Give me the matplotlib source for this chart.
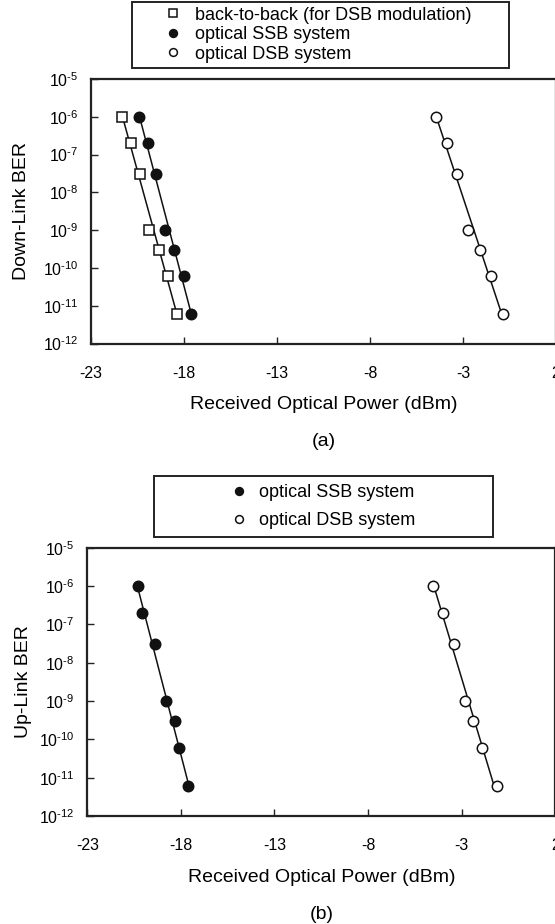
import numpy as np
import matplotlib
matplotlib.use("Agg")
import matplotlib.pyplot as plt
from matplotlib.ticker import FixedLocator, FixedFormatter

plt.rcParams['font.family'] = ['Liberation Sans', 'DejaVu Sans']
plt.rcParams['mathtext.fontset'] = 'custom'
plt.rcParams['mathtext.rm'] = 'Liberation Sans'
plt.rcParams['mathtext.it'] = 'Liberation Sans:italic'
plt.rcParams['mathtext.default'] = 'regular'

# ---- data ----
ber = [1e-6, 2e-7, 3e-8, 1e-9, 3e-10, 6e-11, 6e-12]

down_b2b = [-21.35, -20.85, -20.35, -19.86, -19.34, -18.84, -18.36]
down_ssb = [-20.43, -19.93, -19.52, -19.02, -18.52, -18.01, -17.60]
down_dsb = [-4.47, -3.88, -3.30, -2.71, -2.10, -1.47, -0.86]

up_ssb = [-20.31, -20.09, -19.40, -18.81, -18.32, -18.12, -17.62]
up_dsb = [-4.52, -4.01, -3.40, -2.82, -2.41, -1.90, -1.13]

xticks = [-23, -18, -13, -8, -3, 2]
xticklabels = ['-23', '-18', '-13', '-8', '-3', '2']
yexp = [-5, -6, -7, -8, -9, -10, -11, -12]

lab_b2b = 'back-to-back (for DSB modulation)'
lab_ssb = 'optical SSB system'
lab_dsb = 'optical DSB system'

W, H = 555, 924
fig = plt.figure(figsize=(W / 100, H / 100), dpi=100)


def fpos(l, r, t, b):
    return [l / W, 1 - b / H, (r - l) / W, (b - t) / H]


def fit_line(ax, xs):
    ly = np.log10(ber)
    p = np.polyfit(ly, xs, 1)
    yy = np.linspace(ly.min() - 0.08, ly.max(), 50)
    ax.plot(np.polyval(p, yy), 10 ** yy, color='#111111', lw=1.1, zorder=2)


def style(ax, ylabel, tag, ylab_x, tag_y):
    ax.set_yscale('log')
    ax.set_xlim(-23, 2)
    ax.set_ylim(1e-12, 1e-5)
    ax.xaxis.set_major_locator(FixedLocator(xticks))
    ax.xaxis.set_major_formatter(FixedFormatter(xticklabels))
    ax.yaxis.set_major_locator(FixedLocator([10.0 ** e for e in yexp]))
    ax.yaxis.set_major_formatter(
        FixedFormatter(['$10^{\\text{-%d}}$' % (-e) for e in yexp]))
    ax.yaxis.set_minor_locator(FixedLocator([]))
    ax.tick_params(axis='both', direction='in', length=5, width=1.0,
                   top=False, right=False, color='#222222')
    ax.tick_params(axis='x', pad=16, labelsize=11.5)
    ax.tick_params(axis='y', pad=9, labelsize=11.5)
    for s in ax.spines.values():
        s.set_linewidth(1.6)
        s.set_color('#222222')
    ax.set_xlabel('Received Optical Power (dBm)', fontsize=14, labelpad=11)
    ax.set_ylabel(ylabel, fontsize=14)
    ax.yaxis.set_label_coords(ylab_x, 0.5)
    ax.text(0.5, tag_y, tag, transform=ax.transAxes, ha='center', va='center',
            fontsize=14)


mk = dict(linestyle='none', markersize=7.5, markeredgewidth=1.1,
          markeredgecolor='#111111', zorder=3)

# ---- panel (a) ----
ax1 = fig.add_axes(fpos(91, 556, 79, 343.5))
h1, = ax1.plot(down_b2b, ber, marker='s', markerfacecolor='white', label=lab_b2b, **mk)
h2, = ax1.plot(down_ssb, ber, marker='o', markerfacecolor='#111111', label=lab_ssb, **mk)
h3, = ax1.plot(down_dsb, ber, marker='o', markerfacecolor='white', label=lab_dsb, **mk)
for xs in (down_b2b, down_ssb, down_dsb):
    fit_line(ax1, xs)
style(ax1, 'Down-Link BER', '(a)', (30 - 91) / 465, -0.371)

leg1 = fig.legend(handles=[h1, h2, h3], loc='upper left',
                  bbox_to_anchor=(132 / W, 1 - 1.5 / H, 377 / W, 0.0),
                  mode='expand', fontsize=13, frameon=True, fancybox=False,
                  edgecolor='#222222', framealpha=1, numpoints=1,
                  markerscale=0.75, handlelength=3.94, handletextpad=-0.75,
                  borderpad=0.29, labelspacing=0.14, borderaxespad=0)
leg1.get_frame().set_linewidth(1.4)

# ---- panel (b) ----
ax2 = fig.add_axes(fpos(87.3, 555.3, 547.7, 816))
g1, = ax2.plot(up_ssb, ber, marker='o', markerfacecolor='#111111', label=lab_ssb, **mk)
g2, = ax2.plot(up_dsb, ber, marker='o', markerfacecolor='white', label=lab_dsb, **mk)
for xs in (up_ssb, up_dsb):
    fit_line(ax2, xs)
style(ax2, 'Up-Link BER', '(b)', (32 - 87.3) / 468, -0.366)

leg2 = fig.legend(handles=[g1, g2], loc='upper left',
                  bbox_to_anchor=(154 / W, 1 - 476 / H, 339 / W, 0.0),
                  mode='expand', fontsize=13, frameon=True, fancybox=False,
                  edgecolor='#222222', framealpha=1, numpoints=1,
                  markerscale=0.75, handlelength=8.5, handletextpad=-3.15,
                  borderpad=0.455, labelspacing=0.59, borderaxespad=0)
leg2.get_frame().set_linewidth(1.4)

fig.savefig('out.png', dpi=100)
